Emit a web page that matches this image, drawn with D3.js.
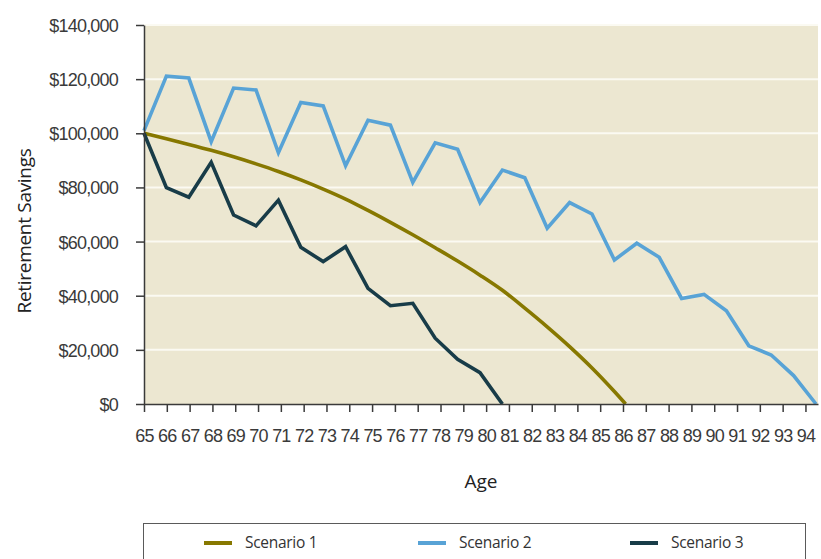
<!DOCTYPE html>
<html>
<head>
<meta charset="utf-8">
<script src="https://cdn.jsdelivr.net/npm/d3@7"></script>
<style>
    body { margin: 0; background: #fff; }
    svg { display: block; font-family: "Open Sans", "Noto Sans", sans-serif; }
    .axis text { fill: #3a3a3a; font-size: 18px; letter-spacing: -0.8px; }
    .axis path, .axis line { stroke: #3a3a3a; stroke-width: 1.5; }
</style>
</head>
<body>
<svg id="chart" width="821" height="559"></svg>
<script>
/*global d3*/
(function () {
    "use strict";

    // ages 65..95, one value per year (thousands of dollars)
    var ages = d3.range(65, 96);
    var tickAges = d3.range(65, 95);
    var yTicks = [0, 20000, 40000, 60000, 80000, 100000, 120000, 140000];

    var scenario1 = [100.0, 98.0, 95.9, 93.7, 91.3, 88.7, 85.9, 82.8, 79.4, 75.7, 71.5,
        67.1, 62.5, 57.7, 52.8, 47.6, 42.0, 35.4, 28.5, 21.2, 13.3, 4.6];
    var scenario1EndAge = 86.5; // savings run out here
    var scenario2 = [101.0, 121.1, 120.4, 96.9, 116.7, 116.0, 92.8, 111.4, 110.1, 88.0, 104.8,
        103.0, 81.9, 96.5, 94.1, 74.4, 86.4, 83.6, 64.9, 74.4, 70.2, 53.2, 59.4, 54.2, 39.0,
        40.5, 34.4, 21.5, 18.1, 10.5, 0];
    var scenario3 = [100.0, 79.9, 76.4, 89.3, 69.8, 65.8, 75.3, 57.9, 52.6, 58.1, 42.7,
        36.3, 37.2, 24.3, 16.5, 11.6, 0];

    var seriesNames = ["Scenario 1", "Scenario 2", "Scenario 3"];
    var seriesColors = ["#877800", "#58a3d6", "#183c48"];

    function toPoints(values) {
        return values.map(function (v, i) {
            return { age: ages[i], value: v * 1000 };
        });
    }

    var s1 = toPoints(scenario1);
    s1.push({ age: scenario1EndAge, value: 0 });
    var series = [s1, toPoints(scenario2), toPoints(scenario3)];

    var plot = { left: 144, right: 818, top: 25, bottom: 404 };
    var svg = d3.select("#chart");

    // the category labels are spaced slightly wider than the data points, as in the original
    var xTick = d3.scaleLinear().domain([65, 94.55]).range([plot.left, plot.right]);
    var xData = d3.scaleLinear().domain([65, 95]).range([plot.left, 816]);
    var y = d3.scaleLinear().domain([0, 140000]).range([plot.bottom, plot.top]);

    svg.append("rect")
        .attr("x", plot.left)
        .attr("y", plot.top)
        .attr("width", plot.right - plot.left)
        .attr("height", plot.bottom - plot.top)
        .attr("fill", "#ece7d1");

    svg.append("g").selectAll("line")
        .data(yTicks.slice(1))
        .enter().append("line")
        .attr("x1", plot.left)
        .attr("x2", plot.right)
        .attr("y1", function (d) { return y(d); })
        .attr("y2", function (d) { return y(d); })
        .attr("stroke", "#fbfaf2")
        .attr("stroke-width", 2);

    var line = d3.line()
        .x(function (d) { return xData(d.age); })
        .y(function (d) { return y(d.value); });

    svg.append("g").selectAll("path")
        .data(series)
        .enter().append("path")
        .attr("fill", "none")
        .attr("stroke", function (d, i) { return seriesColors[i]; })
        .attr("stroke-width", 3.6)
        .attr("stroke-linejoin", "miter")
        .attr("d", function (d, i) {
            return i === 0 ? line.curve(d3.curveMonotoneX)(d) : line.curve(d3.curveLinear)(d);
        });

    var fmt = d3.format(",");
    svg.append("g")
        .attr("class", "axis")
        .attr("transform", "translate(" + plot.left + ",0)")
        .call(d3.axisLeft(y).tickValues(yTicks).tickSize(8).tickSizeOuter(0)
            .tickFormat(function (d) { return "$" + fmt(d); }))
        .call(function (g) {
            g.selectAll("text").attr("x", -26).attr("dy", "0.36em");
        });

    svg.append("g")
        .attr("class", "axis")
        .attr("transform", "translate(0," + plot.bottom + ")")
        .call(d3.axisBottom(xTick).tickValues(tickAges).tickSize(8).tickSizeOuter(0)
            .tickFormat(d3.format("d")))
        .call(function (g) {
            g.selectAll("text").attr("y", 38).attr("dy", 0);
        });

    svg.append("text")
        .attr("x", (plot.left + plot.right) / 2)
        .attr("y", 488)
        .attr("text-anchor", "middle")
        .attr("fill", "#222")
        .style("font-size", "19px")
        .text("Age");

    svg.append("text")
        .attr("transform", "translate(31,231) rotate(-90)")
        .attr("text-anchor", "middle")
        .attr("fill", "#222")
        .style("font-size", "19px")
        .style("letter-spacing", "-0.3px")
        .text("Retirement Savings");

    // legend
    var legend = svg.append("g");
    legend.append("rect")
        .attr("x", 143.5)
        .attr("y", 523.5)
        .attr("width", 662)
        .attr("height", 60)
        .attr("fill", "#fff")
        .attr("stroke", "#5a5a5a")
        .attr("stroke-width", 1);

    var legendX = [204, 418, 630];
    var item = legend.selectAll("g.item")
        .data(seriesNames)
        .enter().append("g")
        .attr("class", "item")
        .attr("transform", function (d, i) { return "translate(" + legendX[i] + ",543)"; });
    item.append("line")
        .attr("x1", 0)
        .attr("x2", 28)
        .attr("stroke", function (d, i) { return seriesColors[i]; })
        .attr("stroke-width", 4);
    item.append("text")
        .attr("x", 41)
        .attr("dy", "0.35em")
        .attr("fill", "#333")
        .style("font-size", "15.5px")
        .style("letter-spacing", "-0.3px")
        .text(function (d) { return d; });
}());
</script>
</body>
</html>
